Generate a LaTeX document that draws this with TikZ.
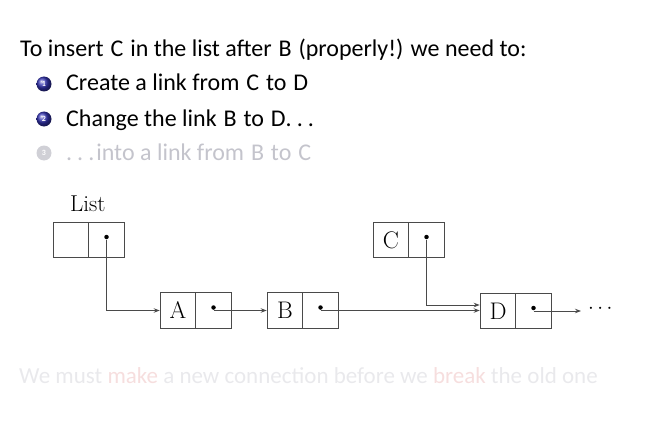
\documentclass[tikz,border=0pt]{standalone}
\usepackage{fontspec}
\setmainfont{Carlito}
\newfontfamily\cmserif{Latin Modern Roman}
\usetikzlibrary{arrows.meta,calc}
\definecolor{structblue}{rgb}{0.2,0.2,0.7}
\definecolor{fadegray}{HTML}{C4C4CC}
\definecolor{palegray}{HTML}{E9E9EC}
\definecolor{palered}{HTML}{F6DEDE}
\definecolor{linegray}{HTML}{4A4A4A}
\newcommand{\ltr}[1]{\kern1.5pt\relax#1\kern1.5pt\relax}
\newcommand{\spdots}{.\kern5pt\relax.\kern5pt\relax.}
\tikzset{
  cell/.style={draw=linegray, line width=1.1pt, minimum width=35.5pt, minimum height=35.5pt, inner sep=0pt, font=\cmserif\fontsize{24}{26}\selectfont},
  txt/.style={anchor=base west, inner sep=0pt, font=\fontsize{24}{26}\selectfont},
  ptr/.style={draw=linegray, line width=0.9pt, -{Stealth[length=6pt,width=4.5pt]}},
  ballnum/.style={circle, inner sep=0pt, minimum size=15pt, text=white, font=\bfseries\fontsize{8}{9}\selectfont},
  dotmark/.style={circle, fill=black, inner sep=0pt, minimum size=4.5pt}
}
\begin{document}
\begin{tikzpicture}[x=1pt,y=-1pt]
\useasboundingbox (0,0) rectangle (655,425);
% text
\node[txt] (title) at (20,57) {To insert \ltr{C} in the list after \ltr{B} (properly!) we need to:};
\node[ballnum, shading=ball, ball color=structblue] (b1) at (44,84) {1};
\node[txt] (i1) at (66,91) {Create a link from \ltr{C} to \ltr{D}};
\node[ballnum, shading=ball, ball color=structblue] (b2) at (44,119) {2};
\node[txt] (i2) at (66,126) {Change the link \ltr{B} to \ltr{D}\kern-1.5pt\relax\spdots};
\node[ballnum, fill=fadegray!80, text=white] (b3) at (44,153) {3};
\node[txt, text=fadegray] (i3) at (66,160) {\spdots\kern2pt\relax into a link from \ltr{B} to \ltr{C}};
\node[txt, text=palegray, font=\fontsize{23}{26}\selectfont] (bottom) at (19,383) {We must \textcolor{palered}{make} a new connection before we \textcolor{palered}{break} the old one};
% list
\node[anchor=base west, inner sep=0pt, font=\cmserif\fontsize{23}{26}\selectfont] (listlbl) at (70,211) {List};
\node[cell] (L0) at (71,240) {};
\node[cell] (L1) at (106.5,240) {};
\node[cell] (A0) at (178,310.5) {A};
\node[cell] (A1) at (213.5,310.5) {};
\node[cell] (B0) at (285,310.5) {B};
\node[cell] (B1) at (320.5,310.5) {};
\node[cell] (C0) at (391,240) {C};
\node[cell] (C1) at (426.5,240) {};
\node[cell] (D0) at (498,311) {D};
\node[cell] (D1) at (533.5,311) {};
\coordinate (Dend) at (581,311);
\node[anchor=west, inner sep=0pt, font=\cmserif\fontsize{20}{24}\selectfont] (dots) at (588,309) {$\cdots$};
% pointers
\draw[ptr] (L1.center) |- (A0.west);
\draw[ptr] (A1.center) -- (B0.west);
\draw[ptr] (B1.center) -- (B1.center -| D0.west);
\draw[ptr] (C1.center) |- ($(D0.west)+(0,-6)$);
\draw[ptr] (D1.center) -- (Dend);
\foreach \n in {L1,A1,B1,C1,D1} \node[dotmark] at ($(\n.center)+(0,-3)$) {};
\end{tikzpicture}
\end{document}
